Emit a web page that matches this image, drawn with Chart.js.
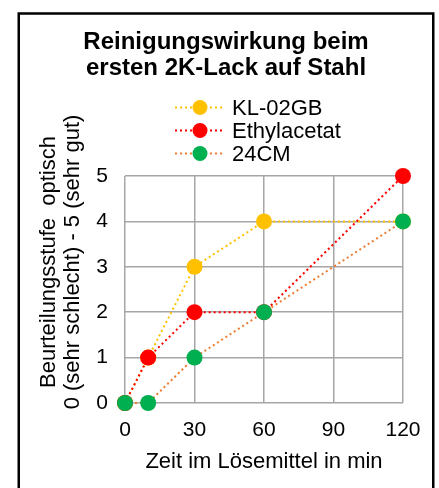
<!DOCTYPE html>
<html lang="de">
<head>
  <meta charset="UTF-8">
  <script src="https://cdn.jsdelivr.net/npm/chart.js"></script>
  <title>Reinigungswirkung</title>
  <style>
    body { margin: 0; background: #fff; }
    .box { width: 439px; height: 488px; }
  </style>
</head>
<body>

<div class="box">
  <canvas class="lineChart" width="439" height="488"></canvas>
</div>

<script>
  // Daten
  const zeitMin = [0, 10, 30, 60, 120];
  const serienNamen = ['KL-02GB', 'Ethylacetat', '24CM'];
  const kl02gb = [0, 1, 3, 4, 4];
  const ethylacetat = [0, 1, 2, 2, 5];
  const cm24 = [0, 0, 1, 2, 4];
  const xTicks = [0, 30, 60, 90, 120];
  const yTicks = [0, 1, 2, 3, 4, 5];

  const linienFarben = ['#FFC000', '#FF0000', '#ED7D31'];
  const punktFarben = ['#FFC000', '#FF0000', '#00B050'];
  const schrift = "Arial, 'Liberation Sans', sans-serif";

  function punkte(werte) {
    return werte.map((y, i) => ({ x: zeitMin[i], y: y }));
  }

  const alleWerte = [kl02gb, ethylacetat, cm24];

  // Rahmen um das ganze Diagramm
  const rahmen = {
    id: 'rahmen',
    beforeDraw(chart) {
      const ctx = chart.ctx;
      ctx.save();
      ctx.fillStyle = '#fff';
      ctx.fillRect(0, 0, chart.width, chart.height);
      ctx.strokeStyle = '#000';
      ctx.lineWidth = 2.5;
      ctx.strokeRect(18.75, 13.5, 414.5, 520);
      ctx.restore();
    }
  };

  // Legende mit Linie + Punkt untereinander
  const legende = {
    id: 'legende',
    afterDraw(chart) {
      const ctx = chart.ctx;
      ctx.save();
      serienNamen.forEach((name, i) => {
        const y = 107.5 + i * 23;
        ctx.strokeStyle = linienFarben[i];
        ctx.lineWidth = 2;
        ctx.setLineDash([2, 3]);
        ctx.beginPath();
        ctx.moveTo(175, y);
        ctx.lineTo(224, y);
        ctx.stroke();
        ctx.setLineDash([]);
        ctx.fillStyle = punktFarben[i];
        ctx.beginPath();
        ctx.arc(200, y, 7.5, 0, Math.PI * 2);
        ctx.fill();
        ctx.fillStyle = '#000';
        ctx.font = '22px ' + schrift;
        ctx.textBaseline = 'middle';
        ctx.fillText(name, 232, y + 1);
      });
      ctx.restore();
    }
  };

  // Y-Achsentitel (zweizeilig, gedreht)
  const yTitel = {
    id: 'yTitel',
    afterDraw(chart) {
      const ctx = chart.ctx;
      ctx.save();
      ctx.translate(61, 262);
      ctx.rotate(-Math.PI / 2);
      ctx.fillStyle = '#000';
      ctx.font = '22px ' + schrift;
      ctx.textAlign = 'center';
      ctx.textBaseline = 'middle';
      ctx.fillText('Beurteilungsstufe  optisch', 0, -12);
      ctx.fillText('0 (sehr schlecht) - 5 (sehr gut)', 0, 11.5);
      ctx.restore();
    }
  };

  const ctx = document.querySelector('.lineChart').getContext('2d');
  const lineChart = new Chart(ctx, {
    type: 'line',
    data: {
      datasets: serienNamen.map((name, i) => ({
        label: name,
        data: punkte(alleWerte[i]),
        borderColor: linienFarben[i],
        borderWidth: 2,
        borderDash: [2, 3],
        backgroundColor: punktFarben[i],
        pointBackgroundColor: punktFarben[i],
        pointBorderWidth: 0,
        pointRadius: 8,
        pointHoverRadius: 8,
        fill: false,
        tension: 0,
        clip: false,
        order: 3 - i
      }))
    },
    options: {
      responsive: false,
      animation: false,
      layout: { padding: { left: 18, right: 5, top: 0, bottom: 0 } },
      plugins: {
        legend: { display: false },
        tooltip: { enabled: false },
        title: {
          display: true,
          text: ['Reinigungswirkung beim', 'ersten 2K-Lack auf Stahl'],
          color: '#000',
          font: { family: schrift, size: 24, weight: 'bold', lineHeight: '26px' },
          padding: { top: 29, bottom: 95 }
        }
      },
      scales: {
        x: {
          type: 'linear',
          min: xTicks[0],
          max: xTicks[xTicks.length - 1],
          afterBuildTicks: (s) => { s.ticks = xTicks.map(v => ({ value: v })); },
          afterFit: (s) => { s.height = 85; },
          grid: { color: '#A6A6A6', lineWidth: 1.5, drawTicks: false },
          border: { display: false },
          ticks: { color: '#000', font: { family: schrift, size: 21 }, padding: 15, maxRotation: 0 },
          title: {
            display: true,
            text: 'Zeit im Lösemittel in min',
            color: '#000',
            font: { family: schrift, size: 22 },
            padding: { top: 0, bottom: 13 }
          }
        },
        y: {
          min: yTicks[0],
          max: yTicks[yTicks.length - 1],
          afterBuildTicks: (s) => { s.ticks = yTicks.map(v => ({ value: v })); },
          afterFit: (s) => { s.width = 107; },
          grid: { color: '#A6A6A6', lineWidth: 1.5, drawTicks: false },
          border: { display: false },
          ticks: { color: '#000', font: { family: schrift, size: 21 }, padding: 17 }
        },
        yRechts: {
          position: 'right',
          display: true,
          afterFit: (s) => { s.width = 31; },
          grid: { display: false },
          border: { display: false },
          ticks: { display: false }
        }
      }
    },
    plugins: [rahmen, legende, yTitel]
  });
</script>

</body>
</html>
